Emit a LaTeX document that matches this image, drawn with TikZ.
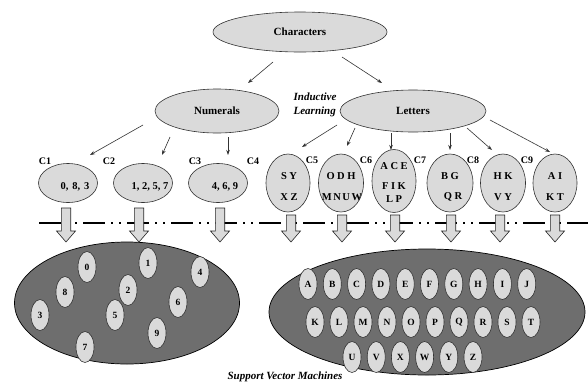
\documentclass[tikz,border=0pt]{standalone}
\usepackage{fontspec}
\setmainfont{Liberation Serif}
\usetikzlibrary{shapes.geometric,arrows.meta}
\definecolor{lg}{HTML}{DADADA}
\definecolor{dg}{HTML}{6E6E6E}
\newcommand\lsp{\hspace{2.5pt}}
\begin{document}
\begin{tikzpicture}[x=1pt,y=-1pt,
  ov/.style={ellipse,draw=black!80,fill=lg,line width=0.6pt,inner sep=0pt},
  big/.style={ellipse,draw=black,fill=dg,line width=0.7pt,inner sep=0pt},
  top/.style={font=\fontsize{11}{13}\selectfont\bfseries},
  clab/.style={font=\fontsize{10}{12}\selectfont\bfseries,inner sep=0pt},
  ctext/.style={font=\fontsize{10.5}{12}\selectfont\bfseries,inner sep=0pt},
  small/.style={ov,minimum width=18pt,minimum height=31pt,font=\fontsize{9.5}{11}\selectfont\bfseries},
  con/.style={draw=black!80,line width=0.6pt,-{Stealth[length=5pt,width=3.5pt]}},
  barrow/.style={draw=black!85,fill=lg,line width=0.6pt}
]
\useasboundingbox (0,0) rectangle (588,386);

% top level
\node[ov,minimum width=174pt,minimum height=40pt,top] (chars) at (300,32) {Characters};
\node[ov,minimum width=124pt,minimum height=44pt,top] (num) at (217,111) {Numerals};
\node[ov,minimum width=146pt,minimum height=42pt,top] (let) at (413,111) {Letters};
\node[font=\fontsize{11}{14}\selectfont\bfseries\itshape,align=left,inner sep=0pt] (ind) at (315,105) {Inductive\\Learning};

\coordinate (a1s) at (273,62); \coordinate (a1e) at (248,83);
\coordinate (a2s) at (342,57); \coordinate (a2e) at (382,83);
\draw[con] (a1s) -- (a1e);
\draw[con] (a2s) -- (a2e);

% cluster ellipses
\node[ov,minimum width=59pt,minimum height=39pt] (e1) at (68,183) {};
\node[ov,minimum width=59pt,minimum height=39pt] (e2) at (143,183) {};
\node[ov,minimum width=59pt,minimum height=39pt] (e3) at (218,183) {};
\node[ov,minimum width=44pt,minimum height=58pt] (e4) at (288,183) {};
\node[ov,minimum width=45pt,minimum height=58pt] (e5) at (341,183) {};
\node[ov,minimum width=44pt,minimum height=63pt] (e6) at (394,181) {};
\node[ov,minimum width=46pt,minimum height=58pt] (e7) at (450,183) {};
\node[ov,minimum width=45pt,minimum height=58pt] (e8) at (503,183) {};
\node[ov,minimum width=44pt,minimum height=58pt] (e9) at (555,183) {};

\node[ctext] (t1) at (75,187) {0,\hspace{4pt}8,\hspace{4pt}3};
\node[ctext] (t2) at (150,187) {1, 2, 5, 7};
\node[ctext] (t3) at (225,187) {4, 6, 9};
\node[ctext] (t4a) at (289,176) {S\lsp Y};
\node[ctext] (t4b) at (289,197) {X\lsp Z};
\node[ctext] (t5a) at (341,176) {O\lsp D\lsp H};
\node[ctext] (t5b) at (342,197) {M\hspace{1.5pt}N\hspace{1.5pt}U\hspace{1.5pt}W};
\node[ctext] (t6a) at (394,166) {A\lsp C\lsp E};
\node[ctext] (t6b) at (394,186) {F\lsp I\lsp K};
\node[ctext] (t6c) at (394,199) {L\lsp P};
\node[ctext] (t7a) at (450,176) {B\lsp G};
\node[ctext] (t7b) at (453,197) {Q\lsp R};
\node[ctext] (t8a) at (503,176) {H\lsp K};
\node[ctext] (t8b) at (503,197) {V\lsp Y};
\node[ctext] (t9a) at (555,176) {A\lsp I};
\node[ctext] (t9b) at (555,197) {K\lsp T};

% C labels
\node[clab] (c1) at (45,161) {C1};
\node[clab] (c2) at (109,161) {C2};
\node[clab] (c3) at (195,161) {C3};
\node[clab] (c4) at (253,161) {C4};
\node[clab] (c5) at (312,160) {C5};
\node[clab] (c6) at (366,160) {C6};
\node[clab] (c7) at (420,160) {C7};
\node[clab] (c8) at (473,160) {C8};
\node[clab] (c9) at (527,160) {C9};

% arrows to clusters
\coordinate (n1s) at (143,125); \coordinate (n1e) at (90,155);
\coordinate (n2s) at (170,137); \coordinate (n2e) at (162,155);
\coordinate (n3s) at (228,137); \coordinate (n3e) at (228,155);
\draw[con] (n1s) -- (n1e);
\draw[con] (n2s) -- (n2e);
\draw[con] (n3s) -- (n3e);
\coordinate (l1s) at (337,125); \coordinate (l1e) at (302,147);
\coordinate (l2s) at (355,128); \coordinate (l2e) at (347,146);
\coordinate (l3s) at (391,133); \coordinate (l3e) at (391,150);
\coordinate (l4s) at (450,133); \coordinate (l4e) at (450,150);
\coordinate (l5s) at (467,128); \coordinate (l5e) at (492,150);
\coordinate (l6s) at (490,120); \coordinate (l6e) at (550,152);
\foreach \i in {1,...,6}{\draw[con] (l\i s) -- (l\i e);}

% dash-dot separator
\coordinate (dl) at (39,223); \coordinate (dr) at (588,223);
\draw[line width=2.3pt,dash pattern=on 22pt off 6pt on 2pt off 6pt on 2pt off 6pt] (dl) -- (dr);

% block arrows
\foreach \x/\ya in {66/208,139/208,220/208,291/215,342/215,395/215,451/215,500/215,555/215}{
  \draw[barrow] (\x-4.7,\ya) -- (\x+4.7,\ya) -- (\x+4.7,231) -- (\x+9.5,231) -- (\x,242) -- (\x-9.5,231) -- (\x-4.7,231) -- cycle;
}

% big ellipses
\node[big,minimum width=225pt,minimum height=122pt] (bl) at (127,303) {};
\node[big,minimum width=316pt,minimum height=126pt] (br) at (427,312) {};

% digits
\foreach \d/\x/\y in {0/87/267,1/148/263,4/200/272,8/65/292,2/128/290,6/178/302,3/40/315,5/115/315,9/157/333,7/85/347}{
  \node[small] (d\d) at (\x,\y) {\d};
}
% letters
\foreach \l [count=\i from 0] in {A,B,C,D,E,F,G,H,I,J}{
  \node[small] (L\l) at (308+24.3*\i,284) {\l};
}
\foreach \l [count=\i from 0] in {K,L,M,N,O,P,Q,R,S,T}{
  \node[small] (L\l) at (315+24.0*\i,322) {\l};
}
\foreach \l [count=\i from 0] in {U,V,X,W,Y,Z}{
  \node[small] (L\l) at (352+24.2*\i,357) {\l};
}

\node[font=\fontsize{11}{13}\selectfont\bfseries\itshape,inner sep=0pt] (svm) at (285,377) {Support Vector Machines};
\end{tikzpicture}
\end{document}
